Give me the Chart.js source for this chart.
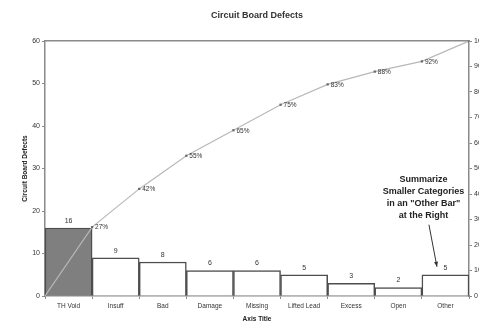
<!DOCTYPE html>
<html>
<head>
<meta charset="utf-8">
<script src="https://cdn.jsdelivr.net/npm/chart.js@4"></script>
<style>
  html, body { margin: 0; padding: 0; background: #fff; overflow: hidden; }
  #wrap { width: 479px; height: 323px; }
</style>
</head>
<body>
<div id="wrap"><canvas id="myChart" width="479" height="323"></canvas></div>
<script>
const ctx = document.getElementById('myChart').getContext('2d');

const categories = ['TH Void', 'Insuff', 'Bad', 'Damage', 'Missing', 'Lifted Lead', 'Excess', 'Open', 'Other'];
const defects = [16, 9, 8, 6, 6, 5, 3, 2, 5];
const cumulativePct = [27, 42, 55, 65, 75, 83, 88, 92, 100];
const countTicks = [0, 10, 20, 30, 40, 50, 60];
const pctTicks = [0, 10, 20, 30, 40, 50, 60, 70, 80, 90, 100];
const note = ['Summarize', 'Smaller Categories', 'in an "Other Bar"', 'at the Right'];

const FONT = 'Arial, "Liberation Sans", sans-serif';
const AXIS = '#8a8a8a';

// cumulative line starts at the origin and steps at each bar's right edge
const cumulativePoints = [{x: 0, y: 0}].concat(cumulativePct.map((p, i) => ({x: i + 1, y: p})));

const paretoLabels = {
	id: 'paretoLabels',
	afterDatasetsDraw(chart) {
		const c = chart.ctx;
		const lineMeta = chart.getDatasetMeta(0);
		const barMeta = chart.getDatasetMeta(1);
		c.save();
		c.fillStyle = '#333';
		c.font = '7px ' + FONT;
		c.textAlign = 'center';
		c.textBaseline = 'middle';
		barMeta.data.forEach((bar, i) => {
			c.fillText(defects[i], bar.x, bar.y - 7);
		});

		c.font = '6.5px ' + FONT;
		c.textAlign = 'left';
		lineMeta.data.forEach((pt, i) => {
			if (i === 0 || i === lineMeta.data.length - 1) return;
			c.fillText(cumulativePct[i - 1] + '%', pt.x + 3, pt.y + 0.5);
		});

		// note pointing at the "Other" bar
		const other = barMeta.data[barMeta.data.length - 1];
		c.font = 'bold 9px ' + FONT;
		c.textAlign = 'center';
		c.fillStyle = '#222';
		note.forEach((t, i) => {
			c.fillText(t, other.x - 22, other.y - 95 + i * 12);
		});
		const x0 = other.x - 16.5, y0 = other.y - 50;
		const x1 = other.x - 8.5, y1 = other.y - 8;
		c.strokeStyle = '#333';
		c.lineWidth = 1;
		c.beginPath();
		c.moveTo(x0, y0);
		c.lineTo(x1, y1);
		c.stroke();
		const ang = Math.atan2(y1 - y0, x1 - x0);
		c.fillStyle = '#333';
		c.beginPath();
		c.moveTo(x1, y1);
		c.lineTo(x1 - 5 * Math.cos(ang) + 2 * Math.sin(ang), y1 - 5 * Math.sin(ang) - 2 * Math.cos(ang));
		c.lineTo(x1 - 5 * Math.cos(ang) - 2 * Math.sin(ang), y1 - 5 * Math.sin(ang) + 2 * Math.cos(ang));
		c.closePath();
		c.fill();
		c.restore();
	}
};

new Chart(ctx, {
	type: 'bar',
	data: {
		labels: categories,
		datasets: [{
			type: 'line',
			label: 'Cumulative %',
			data: cumulativePoints,
			xAxisID: 'x2',
			yAxisID: 'y2',
			order: 0,
			borderColor: '#b8b8b8',
			borderWidth: 1.2,
			pointStyle: 'rect',
			pointRadius: cumulativePoints.map((p, i) => i === 0 ? 0 : 1.6),
			pointBackgroundColor: '#6a6a6a',
			pointBorderColor: '#6a6a6a',
			pointBorderWidth: 0,
			tension: 0
		},
		{
			label: 'Circuit Board Defects',
			data: defects,
			xAxisID: 'x',
			yAxisID: 'y',
			order: 1,
			grouped: false,
			backgroundColor: defects.map((v, i) => i === 0 ? '#7f7f7f' : '#ffffff'),
			borderColor: '#4d4d4d',
			borderWidth: 1.5,
			barPercentage: 1,
			categoryPercentage: 1
		}]
	},
	options: {
		responsive: false,
		animation: false,
		layout: {padding: 0},
		plugins: {
			legend: {display: false},
			tooltip: {enabled: false},
			title: {
				display: true,
				fullSize: false,
				text: 'Circuit Board Defects',
				color: '#333',
				font: {family: FONT, size: 9, weight: 'bold'},
				padding: {top: 10, bottom: 20.2}
			}
		},
		scales: {
			x: {
				type: 'category',
				position: 'bottom',
				offset: true,
				afterFit: (s) => { s.height = 27; },
				grid: {offset: true, drawOnChartArea: false, tickLength: 3, color: AXIS},
				border: {color: AXIS, width: 1.5},
				ticks: {color: '#333', font: {family: FONT, size: 6.5}, padding: 3, maxRotation: 0, autoSkip: false},
				title: {display: true, text: 'Axis Title', color: '#222', font: {family: FONT, size: 6.5, weight: 'bold'}, padding: 0}
			},
			x2: {
				type: 'linear',
				position: 'top',
				min: 0,
				max: 9,
				offset: false,
				afterFit: (s) => { s.height = 0; },
				grid: {offset: false, drawOnChartArea: false, drawTicks: false},
				border: {color: AXIS, width: 1.5},
				ticks: {display: false}
			},
			y: {
				position: 'left',
				min: 0,
				max: 60,
				afterFit: (s) => { s.width = 45; },
				afterBuildTicks: (s) => { s.ticks = countTicks.map(v => ({value: v})); },
				grid: {drawOnChartArea: false, tickLength: 3, color: AXIS},
				border: {color: AXIS, width: 1.5},
				ticks: {color: '#333', font: {family: FONT, size: 7}, padding: 2},
				title: {display: true, text: 'Circuit Board Defects', color: '#222', font: {family: FONT, size: 6.5, weight: 'bold'}, padding: {top: 21, bottom: 0}}
			},
			y2: {
				position: 'right',
				min: 0,
				max: 100,
				afterFit: (s) => { s.width = 10; },
				afterBuildTicks: (s) => { s.ticks = pctTicks.map(v => ({value: v})); },
				grid: {drawOnChartArea: false, tickLength: 3, color: AXIS},
				border: {color: AXIS, width: 1.5},
				ticks: {color: '#333', font: {family: FONT, size: 7}, padding: 2}
			}
		}
	},
	plugins: [paretoLabels]
});
</script>
</body>
</html>
